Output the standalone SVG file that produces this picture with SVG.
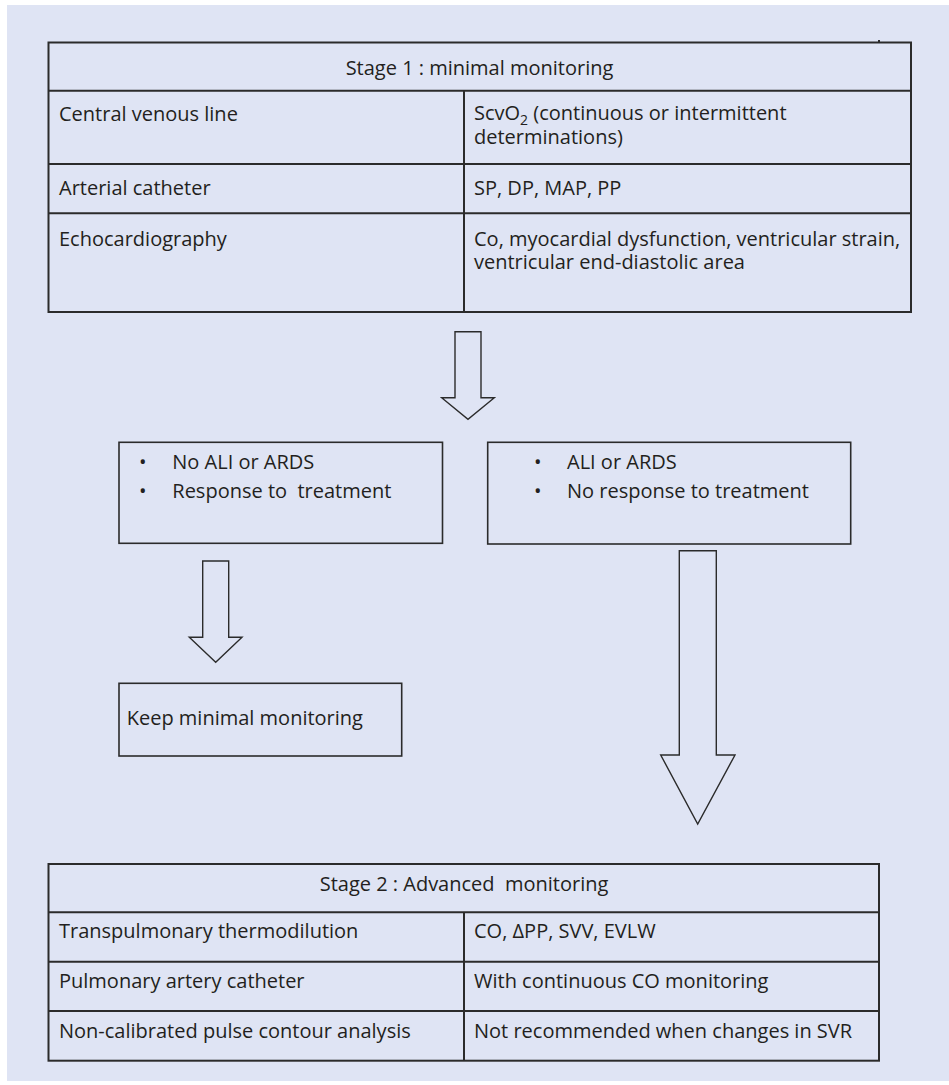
<svg xmlns="http://www.w3.org/2000/svg" width="949" height="1085" viewBox="0 0 949 1085">
<defs>
<style>
text{font-family:"Open Sans","Noto Sans","Liberation Sans",sans-serif;font-size:20px;fill:#231f20}
.tbl{fill:none;stroke:#2b2b2b;stroke-width:2}
.box{fill:none;stroke:#2b2b2b;stroke-width:1.6}
.arr{fill:none;stroke:#2b2b2b;stroke-width:1.4;stroke-linejoin:miter}
.c{text-anchor:middle}
</style>
</defs>
<rect x="7" y="5" width="942" height="1076" fill="#dfe4f4"/>

<g id="stage1">
<rect class="tbl" x="48.5" y="42.5" width="862.5" height="269.5"/>
<line class="tbl" x1="48.5" y1="90.7" x2="911" y2="90.7"/>
<line class="tbl" x1="48.5" y1="164" x2="911" y2="164"/>
<line class="tbl" x1="48.5" y1="213.3" x2="911" y2="213.3"/>
<line class="tbl" x1="464" y1="90.7" x2="464" y2="312"/>
<line class="tbl" x1="879" y1="40" x2="879" y2="42"/>
<text class="c" x="479.5" y="75">Stage 1 : minimal monitoring</text>
<text x="59" y="121">Central venous line</text>
<text x="474" y="120">ScvO<tspan font-size="14" dy="5">2</tspan><tspan dy="-5"> (continuous or intermittent</tspan></text>
<text x="474" y="143.5">determinations)</text>
<text x="59" y="195">Arterial catheter</text>
<text x="474" y="195">SP, DP, MAP, PP</text>
<text x="59" y="246">Echocardiography</text>
<text x="474" y="246">Co, myocardial dysfunction, ventricular strain,</text>
<text x="474" y="268.5">ventricular end-diastolic area</text>
</g>

<g id="box-left">
<rect class="box" x="119" y="442.3" width="323.5" height="101"/>
<text x="139" y="469">•</text>
<text x="172.3" y="469">No ALI or ARDS</text>
<text x="139" y="498.3">•</text>
<text x="172.3" y="498.3" xml:space="preserve">Response to  treatment</text>
</g>

<g id="box-right">
<rect class="box" x="487.7" y="442.3" width="363" height="101.7"/>
<text x="534" y="469">•</text>
<text x="567" y="469">ALI or ARDS</text>
<text x="534" y="498.3">•</text>
<text x="567" y="498.3">No response to treatment</text>
</g>

<g id="box-keep">
<rect class="box" x="119" y="683.3" width="282.7" height="72.7"/>
<text x="126.7" y="725">Keep minimal monitoring</text>
</g>

<g id="stage2">
<rect class="tbl" x="48.5" y="864" width="830.5" height="196.7"/>
<line class="tbl" x1="48.5" y1="912.3" x2="879" y2="912.3"/>
<line class="tbl" x1="48.5" y1="961.7" x2="879" y2="961.7"/>
<line class="tbl" x1="48.5" y1="1011" x2="879" y2="1011"/>
<line class="tbl" x1="464" y1="912.3" x2="464" y2="1060.7"/>
<text class="c" x="464" y="890.7" xml:space="preserve">Stage 2 : Advanced  monitoring</text>
<text x="59" y="938.3">Transpulmonary thermodilution</text>
<text x="474" y="938">CO, ΔPP, SVV, EVLW</text>
<text x="59" y="988.3">Pulmonary artery catheter</text>
<text x="474" y="988.3">With continuous CO monitoring</text>
<text x="59" y="1037.7">Non-calibrated pulse contour analysis</text>
<text x="474" y="1037.7">Not recommended when changes in SVR</text>
</g>

<g id="connectors">
<polygon class="arr" points="455,331.7 481,331.7 481,397.7 494.3,397.7 468,419.3 441.7,397.7 455,397.7"/>
<polygon class="arr" points="202.7,561 228.7,561 228.7,637.3 242,637.3 215.7,662.3 189.3,637.3 202.7,637.3"/>
<polygon class="arr" points="679.3,550.7 716.3,550.7 716.3,755 735,755 697.7,824 660.7,755 679.3,755"/>
</g>
</svg>
